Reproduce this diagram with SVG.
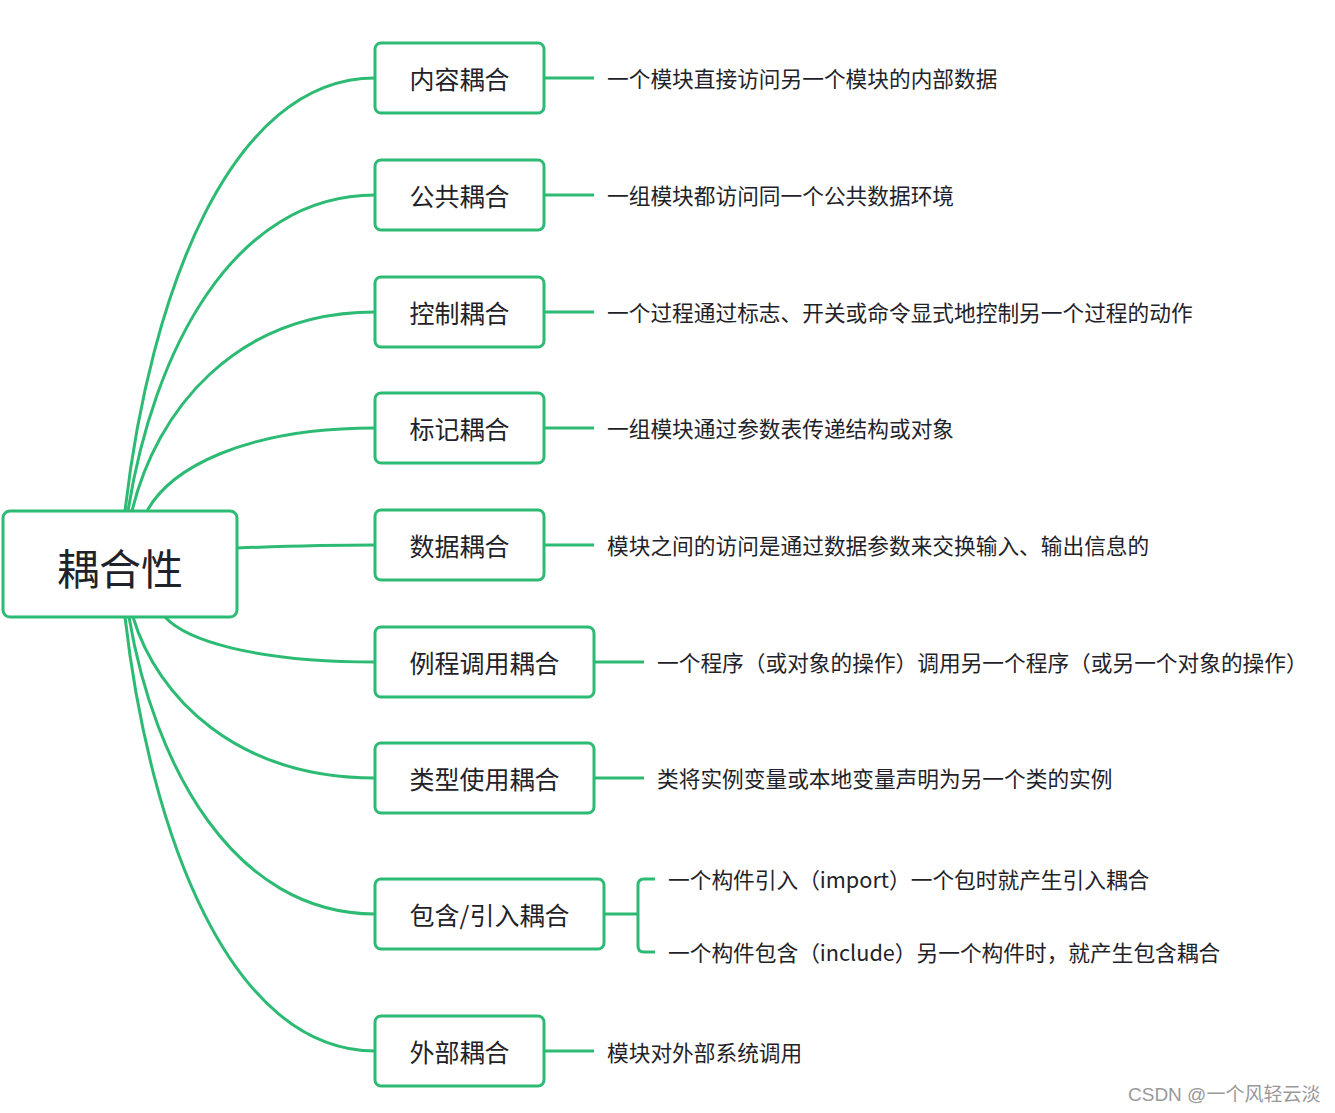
<svg xmlns="http://www.w3.org/2000/svg" width="1335" height="1113" viewBox="0 0 1335 1113">
<style>
.box{fill:#fff;stroke:#2dbb74;stroke-width:3}
.ln{fill:none;stroke:#2dbb74;stroke-width:3}
.t{font-family:"Noto Sans CJK SC","Microsoft YaHei",sans-serif;fill:#1f2329;dominant-baseline:central}
.nt{font-size:25px;text-anchor:middle}
.dt{font-size:21.7px}
</style>
<rect width="1335" height="1113" fill="#fff"/>
<g id="connectors">
<path class="ln" d="M125,511 C150,294 230,78 375,78"/>
<path class="ln" d="M128,511 C153,353 232,195 375,195"/>
<path class="ln" d="M132,511 C156,411 235,312 375,312"/>
<path class="ln" d="M147,511 C170,469 243,428 375,428"/>
<path class="ln" d="M237,548 C290,546 320,545 375,545"/>
<path class="ln" d="M165,617 C186,640 253,662 375,662"/>
<path class="ln" d="M133,617 C157,697 236,778 375,778"/>
<path class="ln" d="M129,617 C154,765 233,914 375,914"/>
<path class="ln" d="M125,617 C150,834 230,1051 375,1051"/>
<path class="ln" d="M544,78 H594"/>
<path class="ln" d="M544,195 H594"/>
<path class="ln" d="M544,312 H594"/>
<path class="ln" d="M544,428 H594"/>
<path class="ln" d="M544,545 H594"/>
<path class="ln" d="M594,662 H644"/>
<path class="ln" d="M594,778 H644"/>
<path class="ln" d="M604,914 H638"/>
<path class="ln" d="M655,879 H644 Q638,879 638,885 V946 Q638,952 644,952 H655"/>
<path class="ln" d="M544,1051 H594"/>
</g>
<g id="root">
<rect class="box" x="3" y="511" width="234" height="106" rx="7"/>
<text class="t" x="120" y="566" font-size="42" text-anchor="middle">耦合性</text>
</g>
<g id="n1"><rect class="box" x="375" y="43" width="169" height="70" rx="6"/><text class="t nt" x="459.5" y="78">内容耦合</text></g>
<g id="n2"><rect class="box" x="375" y="160" width="169" height="70" rx="6"/><text class="t nt" x="459.5" y="195">公共耦合</text></g>
<g id="n3"><rect class="box" x="375" y="277" width="169" height="70" rx="6"/><text class="t nt" x="459.5" y="312">控制耦合</text></g>
<g id="n4"><rect class="box" x="375" y="393" width="169" height="70" rx="6"/><text class="t nt" x="459.5" y="428">标记耦合</text></g>
<g id="n5"><rect class="box" x="375" y="510" width="169" height="70" rx="6"/><text class="t nt" x="459.5" y="545">数据耦合</text></g>
<g id="n6"><rect class="box" x="375" y="627" width="219" height="70" rx="6"/><text class="t nt" x="484.5" y="662">例程调用耦合</text></g>
<g id="n7"><rect class="box" x="375" y="743" width="219" height="70" rx="6"/><text class="t nt" x="484.5" y="778">类型使用耦合</text></g>
<g id="n8"><rect class="box" x="375" y="879" width="229" height="70" rx="6"/><text class="t nt" x="489.5" y="914">包含/引入耦合</text></g>
<g id="n9"><rect class="box" x="375" y="1016" width="169" height="70" rx="6"/><text class="t nt" x="459.5" y="1051">外部耦合</text></g>
<g id="d1"><text class="t dt" x="607" y="77">一个模块直接访问另一个模块的内部数据</text></g>
<g id="d2"><text class="t dt" x="607" y="194">一组模块都访问同一个公共数据环境</text></g>
<g id="d3"><text class="t dt" x="607" y="311">一个过程通过标志、开关或命令显式地控制另一个过程的动作</text></g>
<g id="d4"><text class="t dt" x="607" y="427">一组模块通过参数表传递结构或对象</text></g>
<g id="d5"><text class="t dt" x="607" y="544">模块之间的访问是通过数据参数来交换输入、输出信息的</text></g>
<g id="d6"><text class="t dt" x="657" y="661">一个程序（或对象的操作）调用另一个程序（或另一个对象的操作）</text></g>
<g id="d7"><text class="t dt" x="657" y="777">类将实例变量或本地变量声明为另一个类的实例</text></g>
<g id="d8a"><text class="t dt" x="668" y="878">一个构件引入（import）一个包时就产生引入耦合</text></g>
<g id="d8b"><text class="t dt" x="668" y="951">一个构件包含（include）另一个构件时，就产生包含耦合</text></g>
<g id="d9"><text class="t dt" x="607" y="1051">模块对外部系统调用</text></g>
<text x="1128" y="1101" font-family="Liberation Sans,'Noto Sans CJK SC',sans-serif" font-size="19" fill="#999">CSDN @一个风轻云淡</text>
</svg>
